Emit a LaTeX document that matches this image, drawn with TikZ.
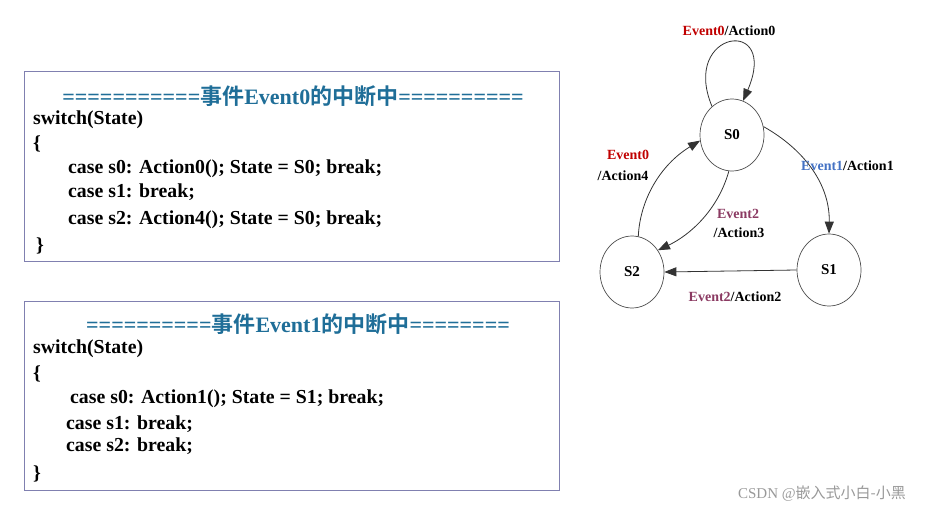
\documentclass[tikz,border=0pt]{standalone}
\usepackage{fontspec}
\setmainfont{Liberation Serif}
\newfontfamily\cjk{Noto Sans CJK SC}[BoldFont={Noto Sans CJK SC Bold}]
\usetikzlibrary{arrows.meta,shapes.geometric}
\definecolor{ttl}{HTML}{1F6E98}
\definecolor{evred}{HTML}{C00000}
\definecolor{evblue}{HTML}{4472C4}
\definecolor{evpur}{HTML}{8B3A62}
\definecolor{boxc}{HTML}{8080B0}
\begin{document}
\begin{tikzpicture}[x=1pt,y=-1pt,
  box/.style={draw=boxc,line width=1pt},
  code/.style={anchor=west,font=\fontsize{19.8}{20}\selectfont\bfseries,inner sep=0},
  ttlst/.style={font=\fontsize{22}{22}\selectfont\bfseries,text=ttl,inner sep=0},
  st/.style={draw=black!70,line width=0.7pt,ellipse,minimum width=64pt,minimum height=72pt,font=\fontsize{15}{15}\selectfont\bfseries,inner sep=0},
  lab/.style={font=\fontsize{14}{14}\selectfont\bfseries,inner sep=0},
  tr/.style={draw=black!80,line width=0.8pt,-{Triangle[length=12pt,width=9pt]}}]
\useasboundingbox (0,0) rectangle (949,513);
% boxes
\draw[box] (24,72) rectangle (559,261);
\draw[box] (24,301) rectangle (559,490);
\node[ttlst] (t1) at (293,96) {===========\cjk 事件\rmfamily Event0\cjk 的中断中\rmfamily==========};
\node[code] (a1) at (33,120) {switch(State)};
\node[code] (a2) at (33,144) {\{};
\node[code] (a3) at (68,169) {case s0: Action0(); State = S0; break;};
\node[code] (a4) at (68,192) {case s1: break;};
\node[code] (a5) at (68,220) {case s2: Action4(); State = S0; break;};
\node[code] (a6) at (36,246) {\}};
\node[ttlst] (t2) at (298,324) {==========\cjk 事件\rmfamily Event1\cjk 的中断中\rmfamily========};
\node[code] (b1) at (33,349) {switch(State)};
\node[code] (b2) at (33,374) {\{};
\node[code] (b3) at (70,399) {case s0: Action1(); State = S1; break;};
\node[code] (b4) at (66,424) {case s1: break;};
\node[code] (b5) at (66,446) {case s2: break;};
\node[code] (b6) at (33,474) {\}};
% states
\node[st] (S0) at (732,135) {S0};
\node[st] (S1) at (829,270) {S1};
\node[st] (S2) at (632,272) {S2};
\draw[tr] (S0.125) .. controls (680,30) and (780,15) .. (S0.72);
\draw[tr] (S0.15) .. controls (805,150) and (830,185) .. (S1.north);
\draw[tr] (S0.265) .. controls (718,210) and (690,235) .. (S2.40);
\draw[tr] (S2.80) .. controls (640,200) and (660,165) .. (S0.190);
\draw[tr] (S1.180) -- (S2.0);
% labels
\node[lab] (l0) at (729,31) {\textcolor{evred}{Event0}/Action0};
\node[lab,anchor=west] (l1) at (801,166) {\textcolor{evblue}{Event1}/Action1};
\node[lab] (l2) at (628,155) {\textcolor{evred}{Event0}};
\node[lab] (l3) at (623,176) {/Action4};
\node[lab] (l4) at (738,214) {\textcolor{evpur}{Event2}};
\node[lab] (l5) at (739,233) {/Action3};
\node[lab] (l6) at (735,297) {\textcolor{evpur}{Event2}/Action2};
\node[font=\fontsize{15}{15}\selectfont,text=black!40,inner sep=0] (wm) at (822,494) {CSDN @\cjk 嵌入式小白-小黑};
\end{tikzpicture}
\end{document}
